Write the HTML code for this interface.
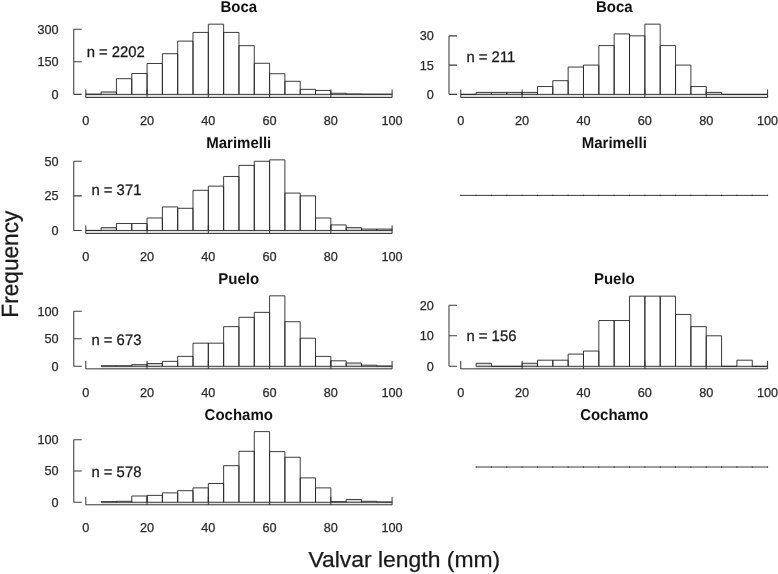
<!DOCTYPE html>
<html><head><meta charset="utf-8"><title>Valvar length frequency</title>
<style>
html,body{margin:0;padding:0;background:#fff}
svg{display:block}
text{font-family:"Liberation Sans",Arial,Helvetica,sans-serif;fill:#1a1a1a}
.t{font-size:15.6px;font-weight:bold;fill:#111;text-rendering:geometricPrecision}
.k{font-size:12.7px;fill:#2a2a2a;stroke:#2a2a2a;stroke-width:0.25px}
.n{font-size:15.3px;fill:#1a1a1a;stroke:#1a1a1a;stroke-width:0.28px;text-rendering:geometricPrecision}
.l{font-size:22.8px;fill:#1a1a1a;stroke:#1a1a1a;stroke-width:0.25px}
.g{fill:#e4e4e4}
.g2{fill:#dedede}
.b{fill:none;stroke:#262626;stroke-width:0.9}
.a{fill:none;stroke:#333;stroke-width:1}
.y{fill:none;stroke:#3c3c3c;stroke-width:1.05}
</style></head><body>
<svg width="778" height="574" viewBox="0 0 778 574">
<rect width="778" height="574" fill="#fff"/>
<text class="t" x="238.75" y="11.6" text-anchor="middle" textLength="36.68" lengthAdjust="spacingAndGlyphs">Boca</text>
<rect class="g" x="85.8" y="94.35" width="306.3" height="3.1"/>
<path class="g2" d="M101.11 94.35V91.96H116.43V94.35Z"/>
<path class="b" d="M85.8 94.35V94.13H101.11V94.35M101.11 94.35V91.96H116.43V94.35M116.43 94.35V78.7H131.75V94.35M131.75 94.35V73.49H147.06V94.35M147.06 94.35V63.49H162.38V94.35M162.38 94.35V53.71H177.69V94.35M177.69 94.35V41.11H193V94.35M193 94.35V32.42H208.32V94.35M208.32 94.35V24.16H223.63V94.35M223.63 94.35V32.42H238.95V94.35M238.95 94.35V45.67H254.26V94.35M254.26 94.35V63.28H269.58V94.35M269.58 94.35V73.71H284.89V94.35M284.89 94.35V81.31H300.21V94.35M300.21 94.35V89.35H315.53V94.35M315.53 94.35V90.44H330.84V94.35M330.84 94.35V93.26H346.16V94.35M346.16 94.35V93.92H361.47V94.35M361.47 94.35V94.13H376.79V94.35M376.79 94.35V94.13H392.1V94.35M85.8 94.35H392.1"/>
<text class="k" x="85.8" y="125" text-anchor="middle">0</text>
<text class="k" x="147.06" y="125" text-anchor="middle">20</text>
<text class="k" x="208.32" y="125" text-anchor="middle">40</text>
<text class="k" x="269.58" y="125" text-anchor="middle">60</text>
<text class="k" x="330.84" y="125" text-anchor="middle">80</text>
<text class="k" x="392.1" y="125" text-anchor="middle">100</text>
<path class="a" d="M85.8 97.45H392.1M85.8 97.45V89.45M147.06 97.45V89.45M208.32 97.45V89.45M269.58 97.45V89.45M330.84 97.45V89.45M392.1 97.45V89.45"/>
<text class="k" x="58.55" y="98.8" text-anchor="end">0</text>
<text class="k" x="58.55" y="66.2" text-anchor="end">150</text>
<text class="k" x="58.55" y="33.61" text-anchor="end">300</text>
<path class="y" d="M73.75 94.35V29.16M73.75 94.35H81.75M73.75 61.75H81.75M73.75 29.16H81.75"/>
<text class="n" x="86.65" y="56.6" textLength="58.22" lengthAdjust="spacingAndGlyphs">n = 2202</text>
<text class="t" x="614.3" y="11.6" text-anchor="middle" textLength="36.68" lengthAdjust="spacingAndGlyphs">Boca</text>
<rect class="g" x="460.75" y="94.35" width="306.85" height="3.1"/>
<path class="g2" d="M476.09 94.35V92.4H491.43V94.35ZM491.44 94.35V92.4H506.78V94.35ZM506.78 94.35V92.4H522.12V94.35ZM522.12 94.35V92.4H537.46V94.35ZM706.23 94.35V92.4H721.57V94.35Z"/>
<path class="b" d="M460.75 94.35V94.35H476.09V94.35M476.09 94.35V92.4H491.43V94.35M491.44 94.35V92.4H506.78V94.35M506.78 94.35V92.4H522.12V94.35M522.12 94.35V92.4H537.46V94.35M537.46 94.35V86.55H552.8V94.35M552.8 94.35V80.7H568.15V94.35M568.15 94.35V67.05H583.49V94.35M583.49 94.35V65.1H598.83V94.35M598.83 94.35V45.6H614.17V94.35M614.17 94.35V33.9H629.52V94.35M629.52 94.35V35.85H644.86V94.35M644.86 94.35V24.15H660.2V94.35M660.2 94.35V45.6H675.54V94.35M675.54 94.35V65.1H690.89V94.35M690.89 94.35V86.55H706.23V94.35M706.23 94.35V92.4H721.57V94.35M721.57 94.35V94.35H736.91V94.35M736.91 94.35V94.35H752.26V94.35M752.26 94.35V94.35H767.6V94.35M460.75 94.35H767.6"/>
<text class="k" x="460.75" y="125" text-anchor="middle">0</text>
<text class="k" x="522.12" y="125" text-anchor="middle">20</text>
<text class="k" x="583.49" y="125" text-anchor="middle">40</text>
<text class="k" x="644.86" y="125" text-anchor="middle">60</text>
<text class="k" x="706.23" y="125" text-anchor="middle">80</text>
<text class="k" x="767.6" y="125" text-anchor="middle">100</text>
<path class="a" d="M460.75 97.45H767.6M460.75 97.45V89.45M522.12 97.45V89.45M583.49 97.45V89.45M644.86 97.45V89.45M706.23 97.45V89.45M767.6 97.45V89.45"/>
<text class="k" x="433.8" y="98.8" text-anchor="end">0</text>
<text class="k" x="433.8" y="69.55" text-anchor="end">15</text>
<text class="k" x="433.8" y="40.3" text-anchor="end">30</text>
<path class="y" d="M449 94.35V35.85M449 94.35H457M449 65.1H457M449 35.85H457"/>
<text class="n" x="466.45" y="62" textLength="48.86" lengthAdjust="spacingAndGlyphs">n = 211</text>
<text class="t" x="238.75" y="147.7" text-anchor="middle" textLength="65.03" lengthAdjust="spacingAndGlyphs">Marimelli</text>
<rect class="g" x="85.8" y="230.45" width="306.3" height="3"/>
<path class="g2" d="M101.11 230.45V227.68H116.43V230.45ZM346.16 230.45V227.68H361.47V230.45ZM361.47 230.45V229.07H376.79V230.45ZM376.79 230.45V229.07H392.1V230.45Z"/>
<path class="b" d="M85.8 230.45V230.45H101.11V230.45M101.11 230.45V227.68H116.43V230.45M116.43 230.45V223.53H131.75V230.45M131.75 230.45V223.53H147.06V230.45M147.06 230.45V217.99H162.38V230.45M162.38 230.45V206.92H177.69V230.45M177.69 230.45V208.31H193V230.45M193 230.45V190.31H208.32V230.45M208.32 230.45V186.16H223.63V230.45M223.63 230.45V176.47H238.95V230.45M238.95 230.45V165.4H254.26V230.45M254.26 230.45V161.25H269.58V230.45M269.58 230.45V159.87H284.89V230.45M284.89 230.45V193.08H300.21V230.45M300.21 230.45V195.85H315.53V230.45M315.53 230.45V217.99H330.84V230.45M330.84 230.45V224.91H346.16V230.45M346.16 230.45V227.68H361.47V230.45M361.47 230.45V229.07H376.79V230.45M376.79 230.45V229.07H392.1V230.45M85.8 230.45H392.1"/>
<text class="k" x="85.8" y="261" text-anchor="middle">0</text>
<text class="k" x="147.06" y="261" text-anchor="middle">20</text>
<text class="k" x="208.32" y="261" text-anchor="middle">40</text>
<text class="k" x="269.58" y="261" text-anchor="middle">60</text>
<text class="k" x="330.84" y="261" text-anchor="middle">80</text>
<text class="k" x="392.1" y="261" text-anchor="middle">100</text>
<path class="a" d="M85.8 233.45H392.1M85.8 233.45V225.45M147.06 233.45V225.45M208.32 233.45V225.45M269.58 233.45V225.45M330.84 233.45V225.45M392.1 233.45V225.45"/>
<text class="k" x="58.55" y="234.9" text-anchor="end">0</text>
<text class="k" x="58.55" y="200.3" text-anchor="end">25</text>
<text class="k" x="58.55" y="165.7" text-anchor="end">50</text>
<path class="y" d="M73.75 230.45V161.25M73.75 230.45H81.75M73.75 195.85H81.75M73.75 161.25H81.75"/>
<text class="n" x="91.45" y="194.6" textLength="49.96" lengthAdjust="spacingAndGlyphs">n = 371</text>
<text class="t" x="614.3" y="147.7" text-anchor="middle" textLength="65.03" lengthAdjust="spacingAndGlyphs">Marimelli</text>
<path class="b" d="M460.75 195.4H767.6"/>
<path class="b" d="M460.75 194.7V196.1M476.09 194.7V196.1M491.44 194.7V196.1M506.78 194.7V196.1M522.12 194.7V196.1M537.46 194.7V196.1M552.8 194.7V196.1M568.15 194.7V196.1M583.49 194.7V196.1M598.83 194.7V196.1M614.17 194.7V196.1M629.52 194.7V196.1M644.86 194.7V196.1M660.2 194.7V196.1M675.54 194.7V196.1M690.89 194.7V196.1M706.23 194.7V196.1M721.57 194.7V196.1M736.91 194.7V196.1M752.26 194.7V196.1M767.6 194.7V196.1"/>
<text class="t" x="238.75" y="283.9" text-anchor="middle" textLength="40.84" lengthAdjust="spacingAndGlyphs">Puelo</text>
<rect class="g" x="101.11" y="366.3" width="290.99" height="2.55"/>
<path class="g2" d="M131.75 366.3V364.65H147.06V366.3ZM147.06 366.3V363.55H162.38V366.3ZM346.16 366.3V363H361.47V366.3Z"/>
<path class="b" d="M101.11 366.3V365.75H116.43V366.3M116.43 366.3V365.75H131.75V366.3M131.75 366.3V364.65H147.06V366.3M147.06 366.3V363.55H162.38V366.3M162.38 366.3V361.35H177.69V366.3M177.69 366.3V356.39H193V366.3M193 366.3V343.18H208.32V366.3M208.32 366.3V343.18H223.63V366.3M223.63 366.3V326.66H238.95V366.3M238.95 366.3V317.31H254.26V366.3M254.26 366.3V312.35H269.58V366.3M269.58 366.3V295.84H284.89V366.3M284.89 366.3V321.71H300.21V366.3M300.21 366.3V338.22H315.53V366.3M315.53 366.3V356.39H330.84V366.3M330.84 366.3V360.8H346.16V366.3M346.16 366.3V363H361.47V366.3M361.47 366.3V365.2H376.79V366.3M376.79 366.3V366.02H392.1V366.3M101.11 366.3H392.1"/>
<text class="k" x="85.8" y="397" text-anchor="middle">0</text>
<text class="k" x="147.06" y="397" text-anchor="middle">20</text>
<text class="k" x="208.32" y="397" text-anchor="middle">40</text>
<text class="k" x="269.58" y="397" text-anchor="middle">60</text>
<text class="k" x="330.84" y="397" text-anchor="middle">80</text>
<text class="k" x="392.1" y="397" text-anchor="middle">100</text>
<path class="a" d="M85.8 368.85H392.1M85.8 368.85V360.85M147.06 368.85V360.85M208.32 368.85V360.85M269.58 368.85V360.85M330.84 368.85V360.85M392.1 368.85V360.85"/>
<text class="k" x="58.55" y="370.75" text-anchor="end">0</text>
<text class="k" x="58.55" y="343.23" text-anchor="end">50</text>
<text class="k" x="58.55" y="315.7" text-anchor="end">100</text>
<path class="y" d="M73.75 366.3V311.25M73.75 366.3H81.75M73.75 338.78H81.75M73.75 311.25H81.75"/>
<text class="n" x="91.45" y="344.5" textLength="49.96" lengthAdjust="spacingAndGlyphs">n = 673</text>
<text class="t" x="614.3" y="283.9" text-anchor="middle" textLength="40.84" lengthAdjust="spacingAndGlyphs">Puelo</text>
<rect class="g" x="476.09" y="366.3" width="291.51" height="2.55"/>
<path class="g2" d="M476.09 366.3V363.25H491.43V366.3ZM522.12 366.3V363.25H537.46V366.3Z"/>
<path class="b" d="M476.09 366.3V363.25H491.43V366.3M491.44 366.3V366.3H506.78V366.3M506.78 366.3V366.3H522.12V366.3M522.12 366.3V363.25H537.46V366.3M537.46 366.3V360.2H552.8V366.3M552.8 366.3V360.2H568.15V366.3M568.15 366.3V354.1H583.49V366.3M583.49 366.3V351.05H598.83V366.3M598.83 366.3V320.55H614.17V366.3M614.17 366.3V320.55H629.52V366.3M629.52 366.3V296.15H644.86V366.3M644.86 366.3V296.15H660.2V366.3M660.2 366.3V296.15H675.54V366.3M675.54 366.3V314.45H690.89V366.3M690.89 366.3V326.65H706.23V366.3M706.23 366.3V335.8H721.57V366.3M721.57 366.3V366.3H736.91V366.3M736.91 366.3V360.2H752.26V366.3M752.26 366.3V366.3H767.6V366.3M476.09 366.3H767.6"/>
<text class="k" x="460.75" y="397" text-anchor="middle">0</text>
<text class="k" x="522.12" y="397" text-anchor="middle">20</text>
<text class="k" x="583.49" y="397" text-anchor="middle">40</text>
<text class="k" x="644.86" y="397" text-anchor="middle">60</text>
<text class="k" x="706.23" y="397" text-anchor="middle">80</text>
<text class="k" x="767.6" y="397" text-anchor="middle">100</text>
<path class="a" d="M460.75 368.85H767.6M460.75 368.85V360.85M522.12 368.85V360.85M583.49 368.85V360.85M644.86 368.85V360.85M706.23 368.85V360.85M767.6 368.85V360.85"/>
<text class="k" x="433.8" y="370.75" text-anchor="end">0</text>
<text class="k" x="433.8" y="340.25" text-anchor="end">10</text>
<text class="k" x="433.8" y="309.75" text-anchor="end">20</text>
<path class="y" d="M449 366.3V305.3M449 366.3H457M449 335.8H457M449 305.3H457"/>
<text class="n" x="466.45" y="340.8" textLength="49.96" lengthAdjust="spacingAndGlyphs">n = 156</text>
<text class="t" x="238.75" y="419.7" text-anchor="middle" textLength="68.34" lengthAdjust="spacingAndGlyphs">Cochamo</text>
<rect class="g" x="101.11" y="502.25" width="290.99" height="2.55"/>
<path class="g2" d="M346.16 502.25V499.44H361.47V502.25Z"/>
<path class="b" d="M101.11 502.25V501.62H116.43V502.25M116.43 502.25V501.31H131.75V502.25M131.75 502.25V496H147.06V502.25M147.06 502.25V495.38H162.38V502.25M162.38 502.25V492.88H177.69V502.25M177.69 502.25V490.69H193V502.25M193 502.25V487.88H208.32V502.25M208.32 502.25V483.5H223.63V502.25M223.63 502.25V465.69H238.95V502.25M238.95 502.25V451.31H254.26V502.25M254.26 502.25V431.62H269.58V502.25M269.58 502.25V451.62H284.89V502.25M284.89 502.25V457.25H300.21V502.25M300.21 502.25V477.88H315.53V502.25M315.53 502.25V487.88H330.84V502.25M330.84 502.25V501.62H346.16V502.25M346.16 502.25V499.44H361.47V502.25M361.47 502.25V501.31H376.79V502.25M376.79 502.25V501.94H392.1V502.25M101.11 502.25H392.1"/>
<text class="k" x="85.8" y="532" text-anchor="middle">0</text>
<text class="k" x="147.06" y="532" text-anchor="middle">20</text>
<text class="k" x="208.32" y="532" text-anchor="middle">40</text>
<text class="k" x="269.58" y="532" text-anchor="middle">60</text>
<text class="k" x="330.84" y="532" text-anchor="middle">80</text>
<text class="k" x="392.1" y="532" text-anchor="middle">100</text>
<path class="a" d="M85.8 504.8H392.1M85.8 504.8V496.8M147.06 504.8V496.8M208.32 504.8V496.8M269.58 504.8V496.8M330.84 504.8V496.8M392.1 504.8V496.8"/>
<text class="k" x="58.55" y="506.7" text-anchor="end">0</text>
<text class="k" x="58.55" y="475.45" text-anchor="end">50</text>
<text class="k" x="58.55" y="444.2" text-anchor="end">100</text>
<path class="y" d="M73.75 502.25V439.75M73.75 502.25H81.75M73.75 471H81.75M73.75 439.75H81.75"/>
<text class="n" x="91.45" y="476.7" textLength="49.96" lengthAdjust="spacingAndGlyphs">n = 578</text>
<text class="t" x="614.3" y="419.7" text-anchor="middle" textLength="68.34" lengthAdjust="spacingAndGlyphs">Cochamo</text>
<path class="b" d="M476.09 467H767.6"/>
<path class="b" d="M476.09 466.3V467.7M491.43 466.3V467.7M506.78 466.3V467.7M522.12 466.3V467.7M537.46 466.3V467.7M552.8 466.3V467.7M568.15 466.3V467.7M583.49 466.3V467.7M598.83 466.3V467.7M614.17 466.3V467.7M629.52 466.3V467.7M644.86 466.3V467.7M660.2 466.3V467.7M675.54 466.3V467.7M690.89 466.3V467.7M706.23 466.3V467.7M721.57 466.3V467.7M736.91 466.3V467.7M752.26 466.3V467.7M767.6 466.3V467.7"/>
<text class="l" style="font-size:22.8px" x="308.4" y="567.4" textLength="191.8" lengthAdjust="spacingAndGlyphs">Valvar length (mm)</text>
<text class="l" style="text-rendering:geometricPrecision" transform="translate(17.85 317.7) rotate(-90) scale(1 1.03)" textLength="107.1" lengthAdjust="spacingAndGlyphs">Frequency</text>
</svg>
</body></html>
